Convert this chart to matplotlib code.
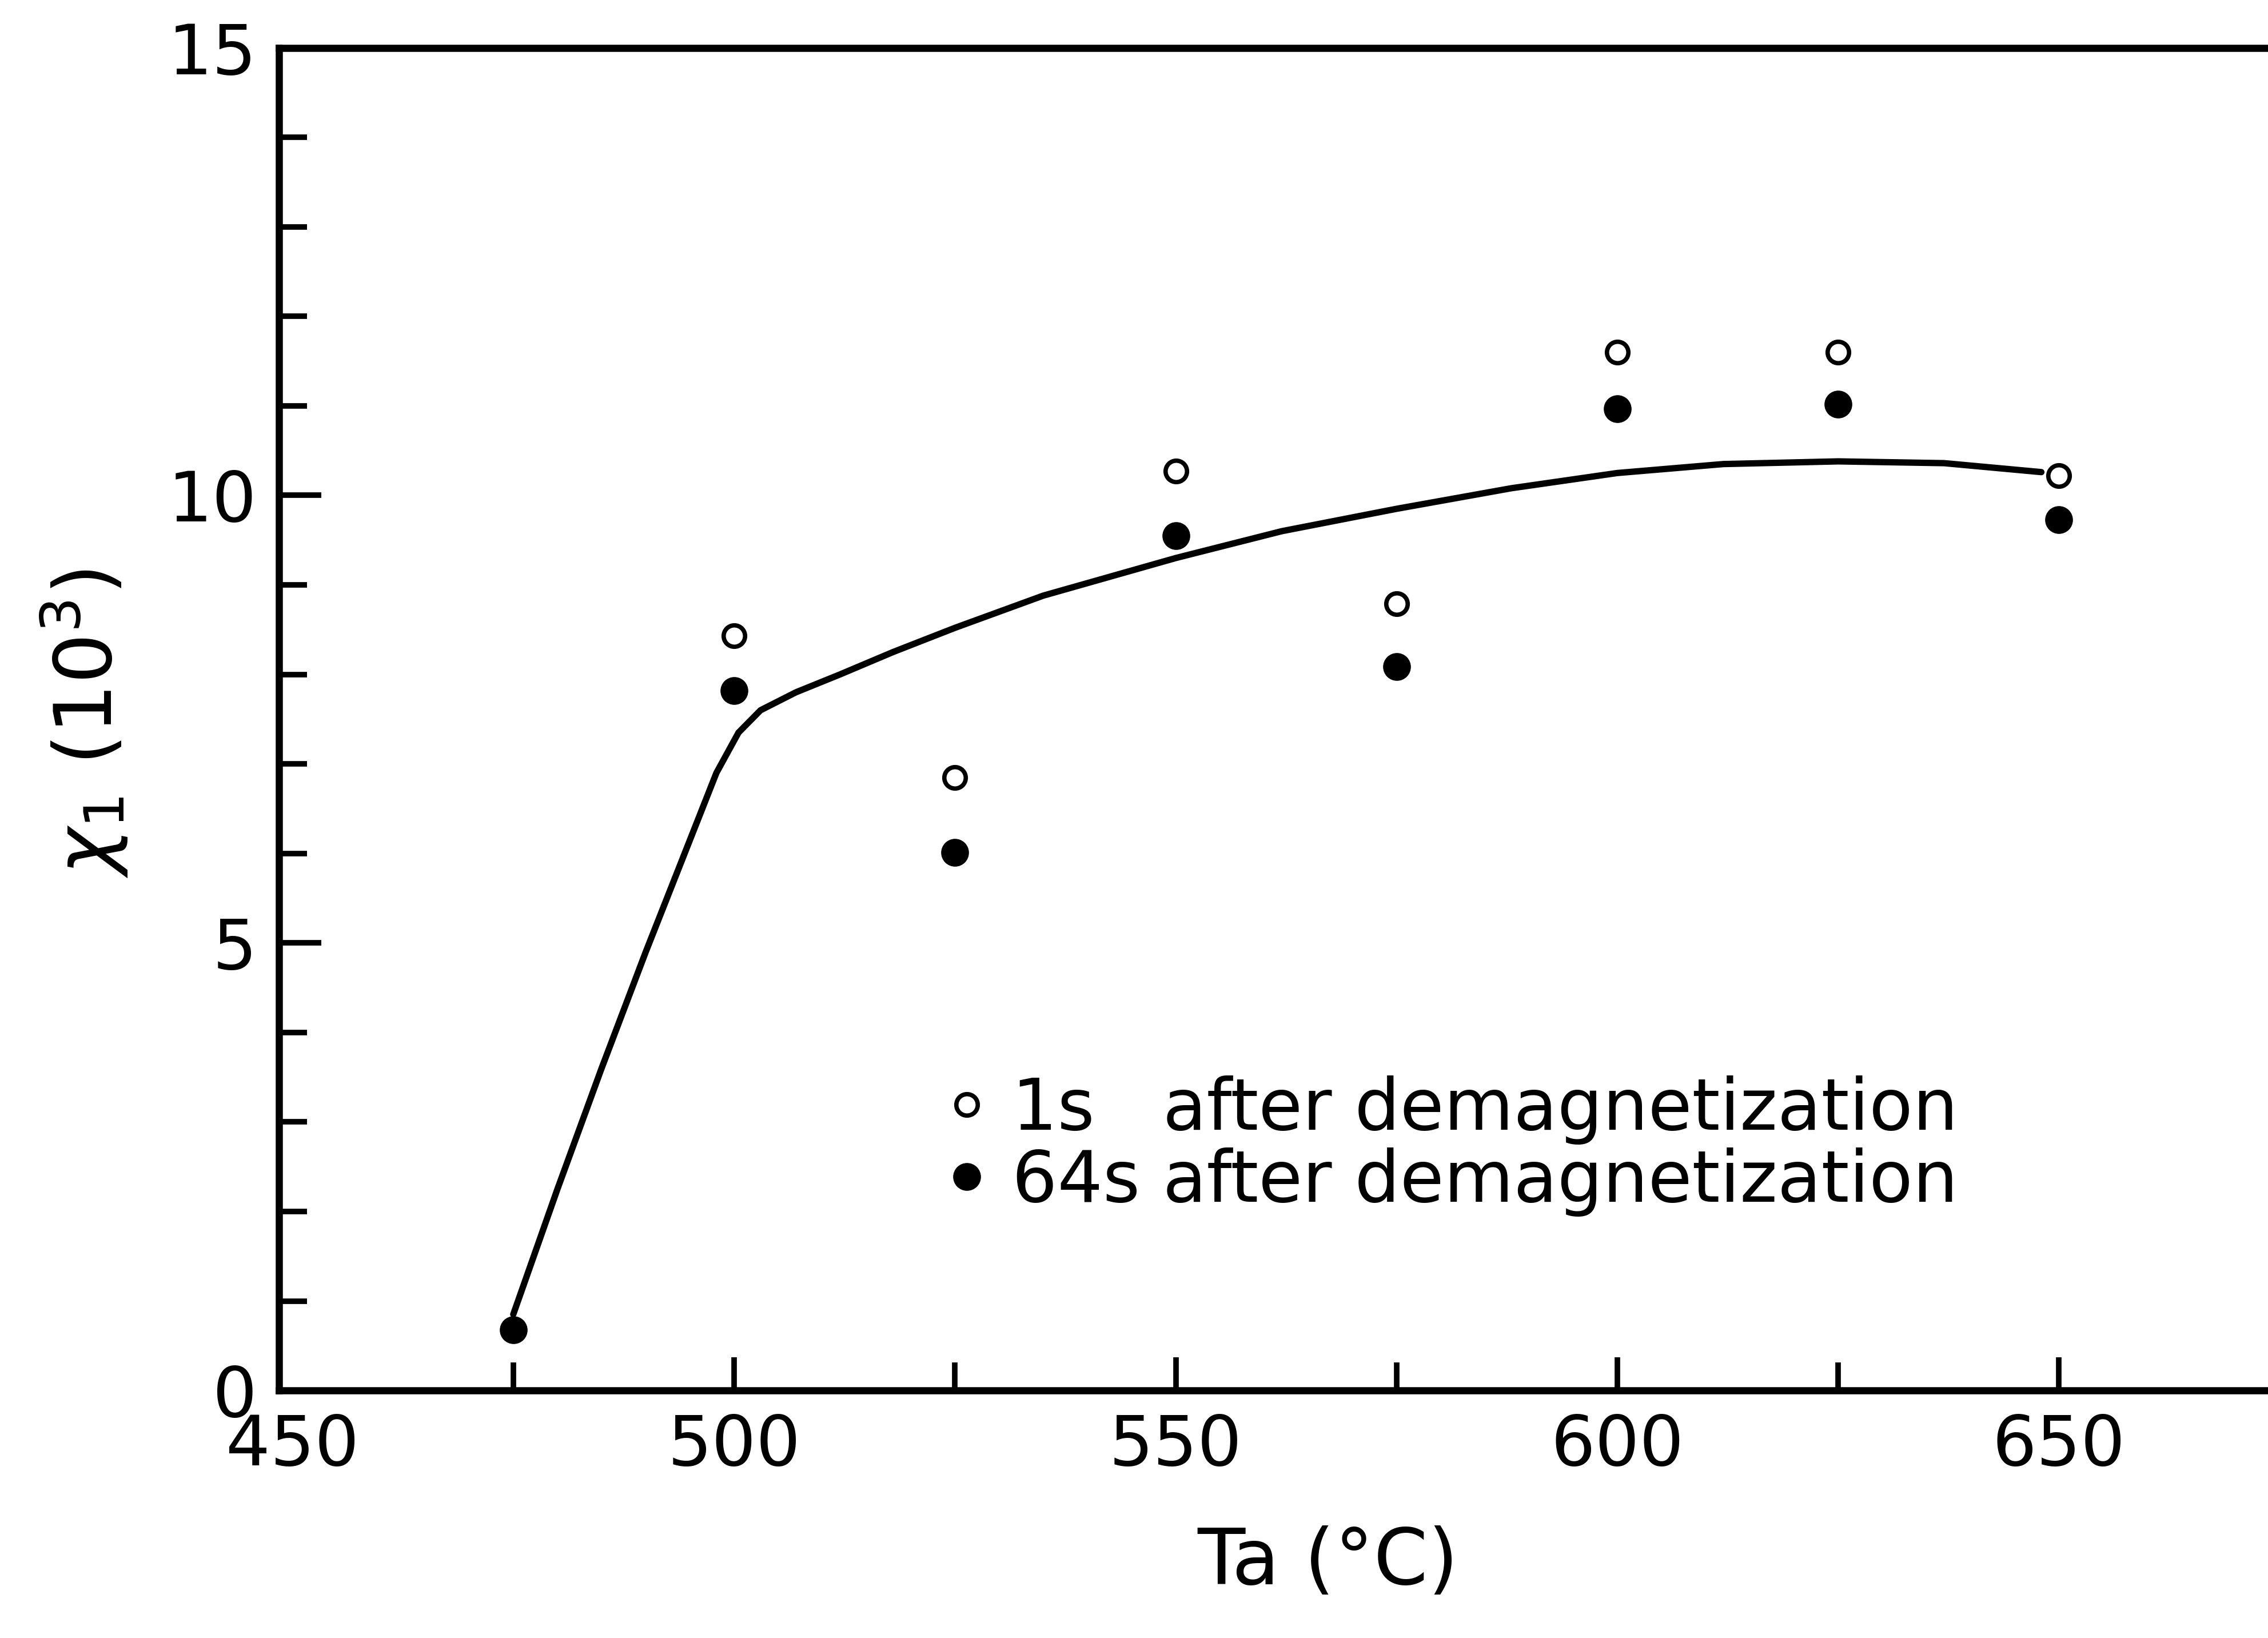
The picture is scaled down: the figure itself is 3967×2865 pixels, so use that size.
#import necessary libraries
import numpy as np
import matplotlib
matplotlib.use("Agg")
import matplotlib.pyplot as plt
from matplotlib.ticker import MultipleLocator

# Data (Ta in deg C, chi_1 in units of 10^3)
ta_open = [500, 525, 550, 575, 600, 625, 650]
chi_open = [8.43, 6.85, 10.27, 8.79, 11.6, 11.6, 10.22]  # 1s after demagnetization

ta_filled = [475, 500, 525, 550, 575, 600, 625, 650]
chi_filled = [0.68, 7.82, 6.01, 9.55, 8.09, 10.97, 11.02, 9.73]  # 64s after demagnetization

# hand-drawn guide curve
ta_curve = [475, 480, 485, 490, 495, 498, 500.5, 503, 507, 512, 518, 525, 535,
            550, 562, 575, 588, 600, 612, 625, 637, 648]
chi_curve = [0.85, 2.25, 3.6, 4.9, 6.15, 6.9, 7.35, 7.6, 7.8, 8.0, 8.25, 8.52, 8.88,
             9.3, 9.6, 9.85, 10.08, 10.25, 10.35, 10.38, 10.36, 10.26]

plt.rcParams['font.family'] = ['DejaVu Sans']
plt.rcParams['mathtext.fontset'] = 'dejavusans'

fig = plt.figure(figsize=(39.67, 28.65), dpi=100)
ax = fig.add_axes([0.1231, 0.1511, 0.9016, 0.8197])

# curve and points
ax.plot(ta_curve, chi_curve, color='black', linewidth=8, solid_capstyle='round',
        solid_joinstyle='round', zorder=2)
ax.plot(ta_open, chi_open, linestyle='none', marker='o', markersize=27,
        markerfacecolor='white', markeredgecolor='black', markeredgewidth=5.5,
        label='1s   after demagnetization', zorder=3)
ax.plot(ta_filled, chi_filled, linestyle='none', marker='o', markersize=34,
        markerfacecolor='black', markeredgecolor='black', markeredgewidth=1,
        label='64s after demagnetization', zorder=3)

# axes limits and ticks
ax.set_xlim(448.5, 680)
ax.set_ylim(0, 15)
ax.xaxis.set_major_locator(MultipleLocator(50))
ax.xaxis.set_minor_locator(MultipleLocator(25))
ax.yaxis.set_major_locator(MultipleLocator(5))
ax.yaxis.set_minor_locator(MultipleLocator(1))

ax.spines['right'].set_visible(False)
for s in ['left', 'bottom', 'top']:
    ax.spines[s].set_linewidth(9)

ax.tick_params(axis='x', which='major', direction='in', length=42, width=7,
               labelsize=88, pad=28, top=False)
ax.tick_params(axis='x', which='minor', direction='in', length=35, width=7, top=False)
ax.tick_params(axis='y', which='major', direction='in', length=53, width=7,
               labelsize=88, pad=28, right=False)
ax.tick_params(axis='y', which='minor', direction='in', length=35, width=7, right=False)

# the 450 tick sits on the spine, hide its mark
fig.canvas.draw()
for t in ax.xaxis.get_major_ticks():
    if abs(t.get_loc() - 450) < 1e-6:
        t.tick1line.set_visible(False)

# axis titles placed in figure coordinates (axes run past the right edge)
fig.text(0.5856, 0.046, 'Ta (°C)', fontsize=98, ha='center', va='center')
fig.text(0.037, 0.558, r'$\chi_1$ $(10^3)$', fontsize=100, ha='center', va='center', rotation=90)

# legend
ax.legend(loc='center left', bbox_to_anchor=(0.4177, 0.3005), bbox_transform=fig.transFigure,
          frameon=False, fontsize=90, handlelength=0.55, handletextpad=0.35,
          labelspacing=0.04, borderpad=0, borderaxespad=0)

plt.savefig('out.png', dpi=100)
